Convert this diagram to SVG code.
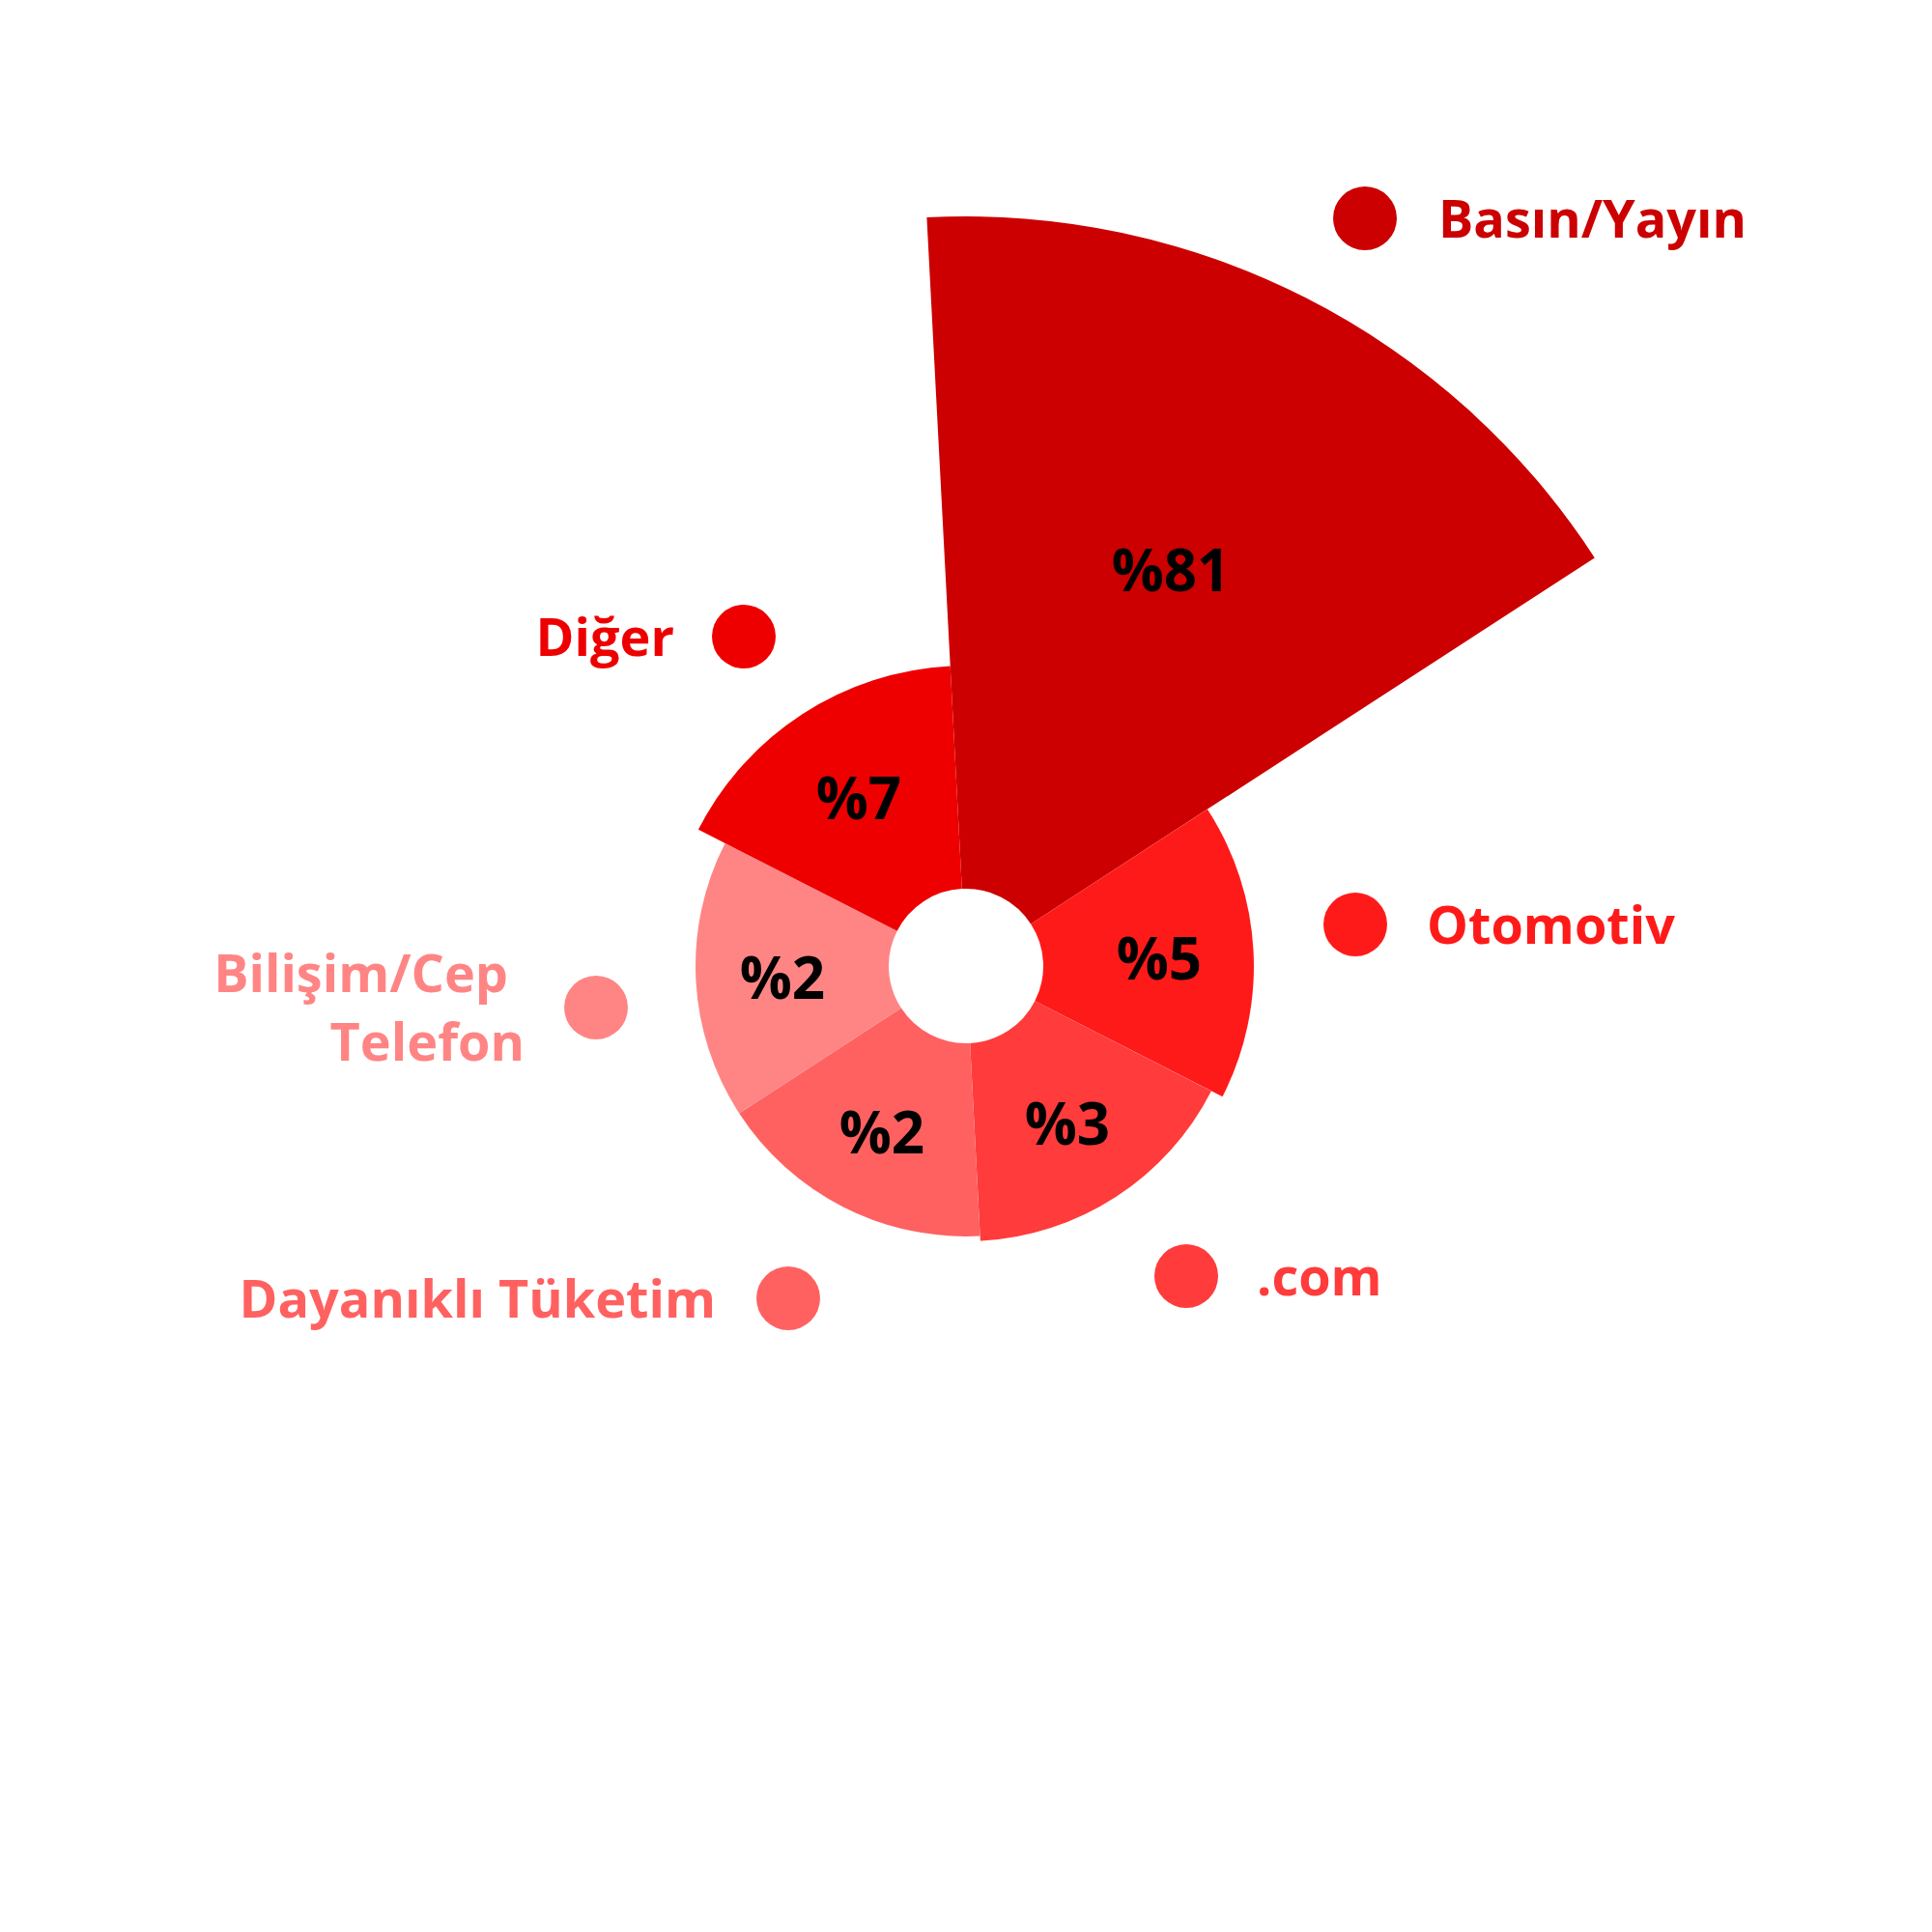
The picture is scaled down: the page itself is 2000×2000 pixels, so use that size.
<svg xmlns="http://www.w3.org/2000/svg" width="2000" height="2000" viewBox="0 0 2000 2000">
<style>
.lbl{font-family:"Open Sans","DejaVu Sans",sans-serif;font-weight:bold;font-size:54px}
.pct{font-family:"Open Sans","DejaVu Sans",sans-serif;font-weight:bold;font-size:60px;fill:#000;text-anchor:middle}
</style>
<rect width="2000" height="2000" fill="#fff"/>
<g id="sectors">
<path id="s-basin" fill="#CC0000" d="M959.4,225.1 A776,776 0 0 1 1650.8,577.4 L1067.1,956.4 A80,80 0 0 0 995.8,920.1 Z"/>
<path id="s-otomotiv" fill="#FF1A1A" d="M1249.9,837.7 A298,298 0 0 1 1265.5,1135.3 L1071.3,1036.3 A80,80 0 0 0 1067.1,956.4 Z"/>
<path id="s-com" fill="#FF3B3B" d="M1253.9,1129.4 A285,285 0 0 1 1014.9,1284.6 L1004.2,1079.9 A80,80 0 0 0 1071.3,1036.3 Z"/>
<path id="s-dayanikli" fill="#FF6161" d="M1014.6,1279.6 A280,280 0 0 1 765.2,1152.5 L932.9,1043.6 A80,80 0 0 0 1004.2,1079.9 Z"/>
<path id="s-bilisim" fill="#FF8585" d="M765.2,1152.5 A280,280 0 0 1 750.5,872.9 L928.7,963.7 A80,80 0 0 0 932.9,1043.6 Z"/>
<path id="s-diger" fill="#EE0000" d="M722.9,858.8 A311,311 0 0 1 983.7,689.4 L995.8,920.1 A80,80 0 0 0 928.7,963.7 Z"/>
</g>
<g id="values">
<text class="pct" x="1212" y="612">%81</text>
<text class="pct" x="889" y="848">%7</text>
<text class="pct" x="1200" y="1014">%5</text>
<text class="pct" x="810" y="1034">%2</text>
<text class="pct" x="913" y="1194">%2</text>
<text class="pct" x="1105" y="1185">%3</text>
</g>
<g id="legend-basin"><circle cx="1413" cy="226" r="33" fill="#CC0000"/><text class="lbl" x="1489" y="246" fill="#CC0000">Basın/Yayın</text></g>
<g id="legend-diger"><circle cx="770" cy="659" r="33" fill="#EE0000"/><text class="lbl" x="698" y="679" fill="#EE0000" text-anchor="end">Diğer</text></g>
<g id="legend-otomotiv"><circle cx="1403" cy="957" r="33" fill="#FF1A1A"/><text class="lbl" x="1477" y="977" fill="#FF1A1A">Otomotiv</text></g>
<g id="legend-bilisim"><circle cx="617" cy="1043" r="33" fill="#FF8585"/><text class="lbl" x="526" y="1027" fill="#FF8585" text-anchor="end">Bilişim/Cep</text><text class="lbl" x="543" y="1098" fill="#FF8585" text-anchor="end">Telefon</text></g>
<g id="legend-dayanikli"><circle cx="816" cy="1344" r="33" fill="#FF6161"/><text class="lbl" x="741" y="1364" fill="#FF6161" text-anchor="end">Dayanıklı Tüketim</text></g>
<g id="legend-com"><circle cx="1228" cy="1321" r="33" fill="#FF3B3B"/><text class="lbl" x="1301" y="1341" fill="#FF3B3B">.com</text></g>
</svg>
